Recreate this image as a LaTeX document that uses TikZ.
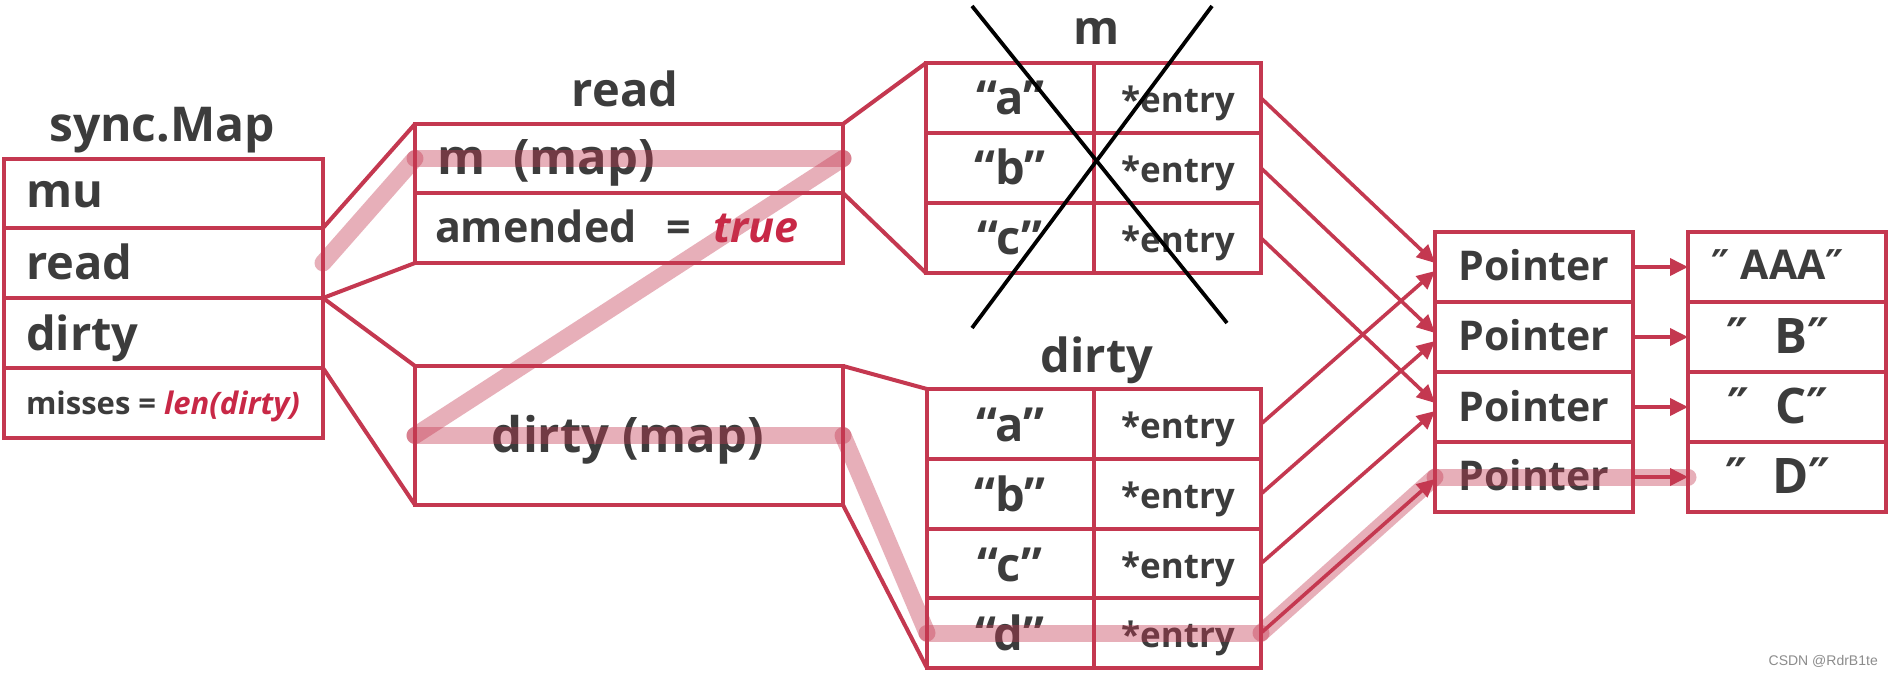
\documentclass[tikz,border=0pt]{standalone}
\usepackage{fontspec}
\setmainfont{Open Sans}
\newfontfamily\dejavu{DejaVu Sans}
\newfontfamily\wmfont{Liberation Sans}
\usetikzlibrary{arrows.meta,fit}
\definecolor{lred}{RGB}{196,56,80}
\definecolor{txt}{RGB}{60,60,60}
\definecolor{tred}{RGB}{200,40,70}
\newcommand\fs[1]{\fontsize{#1}{#1}\selectfont}
\newcommand\pq{{\dejavu\bfseries ″}}
\begin{document}
\begin{tikzpicture}[x=1pt,y=-1pt,
  cell/.style={draw=lred, line width=4.2pt, inner sep=0pt, outer sep=0pt, rectangle},
  conn/.style={draw=lred, line width=4pt, line cap=round},
  arr/.style={draw=lred, line width=3.6pt, -{Triangle[length=18pt,width=17pt]}},
  hlseg/.style={draw=lred, line width=17pt, line cap=round, opacity=0.4},
  cross/.style={draw=black, line width=3.8pt},
  lbl/.style={text=txt, font=\bfseries\fs{47}, inner sep=0pt, outer sep=0pt},
  small/.style={lbl, font=\bfseries\fs{31}},
  mid/.style={lbl, font=\bfseries\fs{43}},
  ent/.style={lbl, font=\bfseries\fs{35}},
  ptr/.style={lbl, font=\bfseries\fs{41}},
]
\useasboundingbox (0,0) rectangle (1893,676);
\fill[white] (0,0) rectangle (1893,676);

% ---- sync.Map
\node[lbl, font=\bfseries\fs{48}, anchor=base] (tsm) at (162,142) {sync.Map};
\node[cell, fit={(4,159) (323,228)}] (smmu) {};
\node[cell, fit={(4,228) (323,298)}] (smread) {};
\node[cell, fit={(4,298) (323,368)}] (smdirty) {};
\node[cell, fit={(4,368) (323,438)}] (smmiss) {};
\node[lbl, anchor=base west] (tmu) at (26,208) {mu};
\node[lbl, anchor=base west] (tread) at (26,280) {read};
\node[lbl, anchor=base west] (tdirty) at (26,350) {dirty};
\node[small, anchor=base west] (tmiss) at (26,414) {misses = \textcolor{tred}{\itshape len(dirty)}};

% ---- read
\node[lbl, anchor=base] (trd) at (625,107) {read};
\node[cell, fit={(415,124) (843,193)}] (rdm) {};
\node[cell, fit={(415,193) (843,263)}] (rdam) {};
\node[lbl, font=\bfseries\fs{49}, anchor=base west] (trdm) at (437,175) {m\hspace{28pt}(map)};
\node[mid, anchor=base west] (tam) at (435,243) {amended\hspace{30pt}=\hspace{22pt}\textcolor{tred}{\itshape true}};
\node[cell, fit={(415,366) (843,505)}] (rddirty) {};
\node[lbl, font=\bfseries\fs{49}, anchor=base] (trdd) at (628,452) {dirty (map)};

% ---- m table
\node[lbl, anchor=base] (tm) at (1097,45) {m};
\node[cell, fit={(926,63) (1094,133)}] (mk1) {};
\node[cell, fit={(1094,63) (1261,133)}] (me1) {};
\node[cell, fit={(926,133) (1094,203)}] (mk2) {};
\node[cell, fit={(1094,133) (1261,203)}] (me2) {};
\node[cell, fit={(926,203) (1094,273)}] (mk3) {};
\node[cell, fit={(1094,203) (1261,273)}] (me3) {};
\node[lbl, anchor=base] (tmk1) at (1010,115) {“a”};
\node[lbl, anchor=base] (tmk2) at (1010,185) {“b”};
\node[lbl, anchor=base] (tmk3) at (1010,255) {“c”};
\node[ent, anchor=base] (tme1) at (1178,113) {*entry};
\node[ent, anchor=base] (tme2) at (1178,183) {*entry};
\node[ent, anchor=base] (tme3) at (1178,253) {*entry};

% ---- dirty table
\node[lbl, anchor=base] (tdt) at (1097,372) {dirty};
\node[cell, fit={(927,389) (1094,459)}] (dk1) {};
\node[cell, fit={(1094,389) (1261,459)}] (de1) {};
\node[cell, fit={(927,459) (1094,529)}] (dk2) {};
\node[cell, fit={(1094,459) (1261,529)}] (de2) {};
\node[cell, fit={(927,529) (1094,598)}] (dk3) {};
\node[cell, fit={(1094,529) (1261,598)}] (de3) {};
\node[cell, fit={(927,598) (1094,668)}] (dk4) {};
\node[cell, fit={(1094,598) (1261,668)}] (de4) {};
\node[lbl, anchor=base] (tdk1) at (1010,441) {“a”};
\node[lbl, anchor=base] (tdk2) at (1010,511) {“b”};
\node[lbl, anchor=base] (tdk3) at (1010,581) {“c”};
\node[lbl, anchor=base] (tdk4) at (1010,650) {“d”};
\node[ent, anchor=base] (tde1) at (1178,438) {*entry};
\node[ent, anchor=base] (tde2) at (1178,508) {*entry};
\node[ent, anchor=base] (tde3) at (1178,578) {*entry};
\node[ent, anchor=base] (tde4) at (1178,647) {*entry};

% ---- pointers and values
\node[cell, fit={(1435,232) (1633,302)}] (p1) {};
\node[cell, fit={(1435,302) (1633,372)}] (p2) {};
\node[cell, fit={(1435,372) (1633,442)}] (p3) {};
\node[cell, fit={(1435,442) (1633,512)}] (p4) {};
\node[cell, fit={(1688,232) (1886,302)}] (v1) {};
\node[cell, fit={(1688,302) (1886,372)}] (v2) {};
\node[cell, fit={(1688,372) (1886,442)}] (v3) {};
\node[cell, fit={(1688,442) (1886,512)}] (v4) {};
\node[ptr, anchor=base] (tp1) at (1534,281) {Pointer};
\node[ptr, anchor=base] (tp2) at (1534,351) {Pointer};
\node[ptr, anchor=base] (tp3) at (1534,421) {Pointer};
\node[ptr, anchor=base] (tp4) at (1534,490) {Pointer};
\node[mid, font=\bfseries\fs{41}, anchor=base] (tv1) at (1778,280) {\pq\ AAA\pq};
\node[lbl, font=\bfseries\fs{49}, anchor=base] (tv2) at (1778,353) {\pq\ \ B\pq};
\node[lbl, font=\bfseries\fs{49}, anchor=base] (tv3) at (1778,423) {\pq\ \ C\pq};
\node[lbl, font=\bfseries\fs{49}, anchor=base] (tv4) at (1778,493) {\pq\ \ D\pq};

% ---- connectors between structures
\draw[conn] (smread.north east) -- (rdm.north west);
\draw[conn] (smread.south east) -- (rdam.south west);
\draw[conn] (smdirty.north east) -- (rddirty.north west);
\draw[conn] (smdirty.south east) -- (rddirty.south west);
\draw[conn] (rdm.north east) -- (mk1.north west);
\draw[conn] (rdm.south east) -- (mk3.south west);
\draw[conn] (rddirty.north east) -- (dk1.north west);
\draw[conn] (rddirty.south east) -- (dk4.south west);

% ---- arrows
\draw[arr] (me1.east) -- ([yshift=4pt]p1.west);
\draw[arr] (me2.east) -- ([yshift=4pt]p2.west);
\draw[arr] (me3.east) -- ([yshift=4pt]p3.west);
\draw[arr] (de1.east) -- ([yshift=-4pt]p1.west);
\draw[arr] (de2.east) -- ([yshift=-4pt]p2.west);
\draw[arr] (de3.east) -- ([yshift=-4pt]p3.west);
\draw[arr] (de4.east) -- ([yshift=-2pt]p4.west);
\draw[arr] (p1.east) -- (v1.west);
\draw[arr] (p2.east) -- (v2.west);
\draw[arr] (p3.east) -- (v3.west);
\draw[arr] (p4.east) -- (v4.west);

% ---- cross over m
\coordinate (c1a) at (972,6);
\coordinate (c1b) at (1227,323);
\coordinate (c2a) at (1212,6);
\coordinate (c2b) at (972,328);
\draw[cross] (c1a) -- (c1b);
\draw[cross] (c2a) -- (c2b);

% ---- highlight path
\draw[hlseg] (smread.east) -- (rdm.west);
\draw[hlseg] (rdm.west) -- (rdm.east);
\draw[hlseg] (rdm.east) -- (rddirty.west);
\draw[hlseg] (rddirty.west) -- (rddirty.east);
\draw[hlseg] (rddirty.east) -- (dk4.west);
\draw[hlseg] (dk4.west) -- (de4.east);
\draw[hlseg] (de4.east) -- (p4.west);
\draw[hlseg] (p4.west) -- (v4.west);

% ---- watermark
\node[anchor=base east, text=black!45, font=\wmfont\fs{14}, inner sep=0pt] (wm) at (1878,665) {CSDN @RdrB1te};
\end{tikzpicture}
\end{document}
